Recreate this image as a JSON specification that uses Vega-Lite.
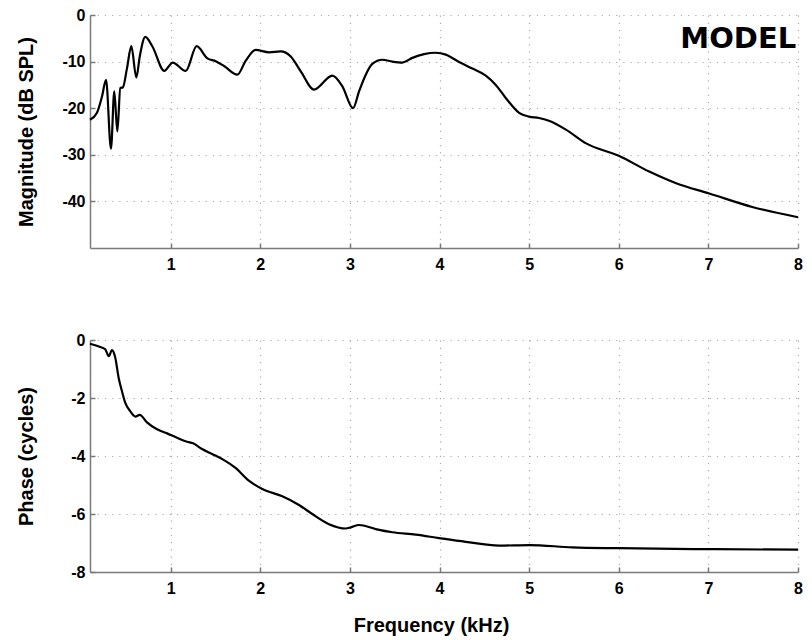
{
  "$schema": "https://vega.github.io/schema/vega-lite/v6.json",
  "background": "white",
  "padding": {"left": 15, "top": 7, "right": 6, "bottom": 4},
  "spacing": 92,
  "bounds": "flush",
  "datasets": {
    "mag": [
      {"f": 0.1, "db": -22.5}, {"f": 0.178, "db": -21.0}, {"f": 0.234, "db": -17.5}, {"f": 0.279, "db": -13.9},
      {"f": 0.334, "db": -28.7}, {"f": 0.371, "db": -16.4}, {"f": 0.405, "db": -25.0}, {"f": 0.438, "db": -15.7},
      {"f": 0.468, "db": -15.5}, {"f": 0.513, "db": -11.4}, {"f": 0.561, "db": -6.7}, {"f": 0.617, "db": -13.4},
      {"f": 0.655, "db": -8.9}, {"f": 0.717, "db": -4.7}, {"f": 0.795, "db": -6.7}, {"f": 0.929, "db": -12.0},
      {"f": 1.023, "db": -10.2}, {"f": 1.168, "db": -12.0}, {"f": 1.29, "db": -6.7}, {"f": 1.41, "db": -9.3},
      {"f": 1.503, "db": -9.9}, {"f": 1.6, "db": -11.0}, {"f": 1.744, "db": -12.8}, {"f": 1.838, "db": -9.8},
      {"f": 1.949, "db": -7.5}, {"f": 2.098, "db": -8.0}, {"f": 2.228, "db": -7.8}, {"f": 2.34, "db": -8.9},
      {"f": 2.452, "db": -12.1}, {"f": 2.6, "db": -16.0}, {"f": 2.804, "db": -13.0}, {"f": 2.916, "db": -15.3},
      {"f": 3.035, "db": -20.0}, {"f": 3.102, "db": -16.4}, {"f": 3.177, "db": -12.8}, {"f": 3.25, "db": -10.5},
      {"f": 3.362, "db": -9.6}, {"f": 3.474, "db": -10.0}, {"f": 3.586, "db": -10.2}, {"f": 3.697, "db": -9.2},
      {"f": 3.828, "db": -8.4}, {"f": 3.958, "db": -8.1}, {"f": 4.07, "db": -8.5}, {"f": 4.218, "db": -10.1},
      {"f": 4.367, "db": -11.5}, {"f": 4.516, "db": -13.0}, {"f": 4.628, "db": -15.0}, {"f": 4.739, "db": -17.8},
      {"f": 4.888, "db": -21.0}, {"f": 4.999, "db": -21.8}, {"f": 5.11, "db": -22.1}, {"f": 5.22, "db": -22.7},
      {"f": 5.41, "db": -24.6}, {"f": 5.63, "db": -27.5}, {"f": 6.0, "db": -30.2}, {"f": 6.34, "db": -33.6},
      {"f": 6.64, "db": -36.1}, {"f": 7.01, "db": -38.3}, {"f": 7.49, "db": -41.2}, {"f": 8.0, "db": -43.4}
    ],
    "phase": [
      {"f": 0.1, "c": -0.13}, {"f": 0.215, "c": -0.24}, {"f": 0.27, "c": -0.32}, {"f": 0.31, "c": -0.56},
      {"f": 0.345, "c": -0.35}, {"f": 0.382, "c": -0.61}, {"f": 0.42, "c": -1.31}, {"f": 0.457, "c": -1.77},
      {"f": 0.494, "c": -2.17}, {"f": 0.55, "c": -2.46}, {"f": 0.606, "c": -2.64}, {"f": 0.655, "c": -2.58},
      {"f": 0.736, "c": -2.84}, {"f": 0.848, "c": -3.08}, {"f": 0.96, "c": -3.22}, {"f": 1.071, "c": -3.37},
      {"f": 1.183, "c": -3.51}, {"f": 1.25, "c": -3.56}, {"f": 1.35, "c": -3.76}, {"f": 1.462, "c": -3.93},
      {"f": 1.6, "c": -4.15}, {"f": 1.72, "c": -4.4}, {"f": 1.876, "c": -4.86}, {"f": 2.023, "c": -5.14},
      {"f": 2.246, "c": -5.39}, {"f": 2.432, "c": -5.69}, {"f": 2.58, "c": -6.0}, {"f": 2.767, "c": -6.35},
      {"f": 2.953, "c": -6.5}, {"f": 3.01, "c": -6.46}, {"f": 3.102, "c": -6.38}, {"f": 3.288, "c": -6.52},
      {"f": 3.474, "c": -6.63}, {"f": 3.735, "c": -6.71}, {"f": 3.995, "c": -6.83}, {"f": 4.293, "c": -6.96},
      {"f": 4.665, "c": -7.09}, {"f": 5.0, "c": -7.07}, {"f": 5.48, "c": -7.15}, {"f": 6.0, "c": -7.18},
      {"f": 6.9, "c": -7.21}, {"f": 8.0, "c": -7.23}
    ],
    "note": [{"label": "MODEL"}]
  },
  "vconcat": [
    {
      "width": 708,
      "height": 233,
      "layer": [
        {
          "data": {"name": "mag"},
          "mark": {"type": "line", "color": "black", "strokeWidth": 2.2, "interpolate": "monotone"},
          "encoding": {
            "x": {"field": "f", "type": "quantitative", "scale": {"domain": [0.1, 8], "nice": false, "zero": false},
                  "axis": {"title": null, "values": [1, 2, 3, 4, 5, 6, 7, 8]}},
            "y": {"field": "db", "type": "quantitative", "scale": {"domain": [-50, 0], "nice": false},
                  "axis": {"title": "Magnitude (dB SPL)", "values": [0, -10, -20, -30, -40]}}
          }
        },
        {
          "data": {"name": "note"},
          "mark": {"type": "text", "font": "DejaVu Sans", "fontWeight": "bold", "fontSize": 29, "align": "right", "baseline": "alphabetic", "color": "black"},
          "encoding": {
            "x": {"datum": 7.98, "type": "quantitative"},
            "y": {"datum": -7.0, "type": "quantitative"},
            "text": {"field": "label", "type": "nominal"}
          }
        }
      ]
    },
    {
      "width": 708,
      "height": 232,
      "data": {"name": "phase"},
      "mark": {"type": "line", "color": "black", "strokeWidth": 2.2, "interpolate": "monotone"},
      "encoding": {
        "x": {"field": "f", "type": "quantitative", "scale": {"domain": [0.1, 8], "nice": false, "zero": false},
              "axis": {"title": "Frequency (kHz)", "values": [1, 2, 3, 4, 5, 6, 7, 8], "titleX": 341, "titleY": 59, "titleBaseline": "alphabetic"}},
        "y": {"field": "c", "type": "quantitative", "scale": {"domain": [-8, 0], "nice": false},
              "axis": {"title": "Phase (cycles)", "values": [0, -2, -4, -6, -8]}}
      }
    }
  ],
  "config": {
    "font": "Liberation Sans",
    "view": {"stroke": null},
    "axis": {
      "labelFont": "Liberation Sans",
      "labelFontWeight": "bold",
      "labelFontSize": 16,
      "labelColor": "black",
      "labelExpr": "'' + datum.value",
      "labelFlush": false,
      "labelOverlap": false,
      "titleFont": "Liberation Sans",
      "titleFontWeight": "bold",
      "titleFontSize": 20,
      "titleColor": "black",
      "domainColor": "#7a7a7a",
      "domainWidth": 1.5,
      "tickColor": "#7a7a7a",
      "tickWidth": 1.5,
      "tickSize": -5,
      "grid": true,
      "gridColor": "#aaaaaa",
      "gridDash": [1.2, 6],
      "gridWidth": 1.2
    },
    "axisY": {"labelPadding": 10, "titleX": -58, "titleBaseline": "alphabetic"},
    "axisX": {"labelPadding": 13}
  }
}
